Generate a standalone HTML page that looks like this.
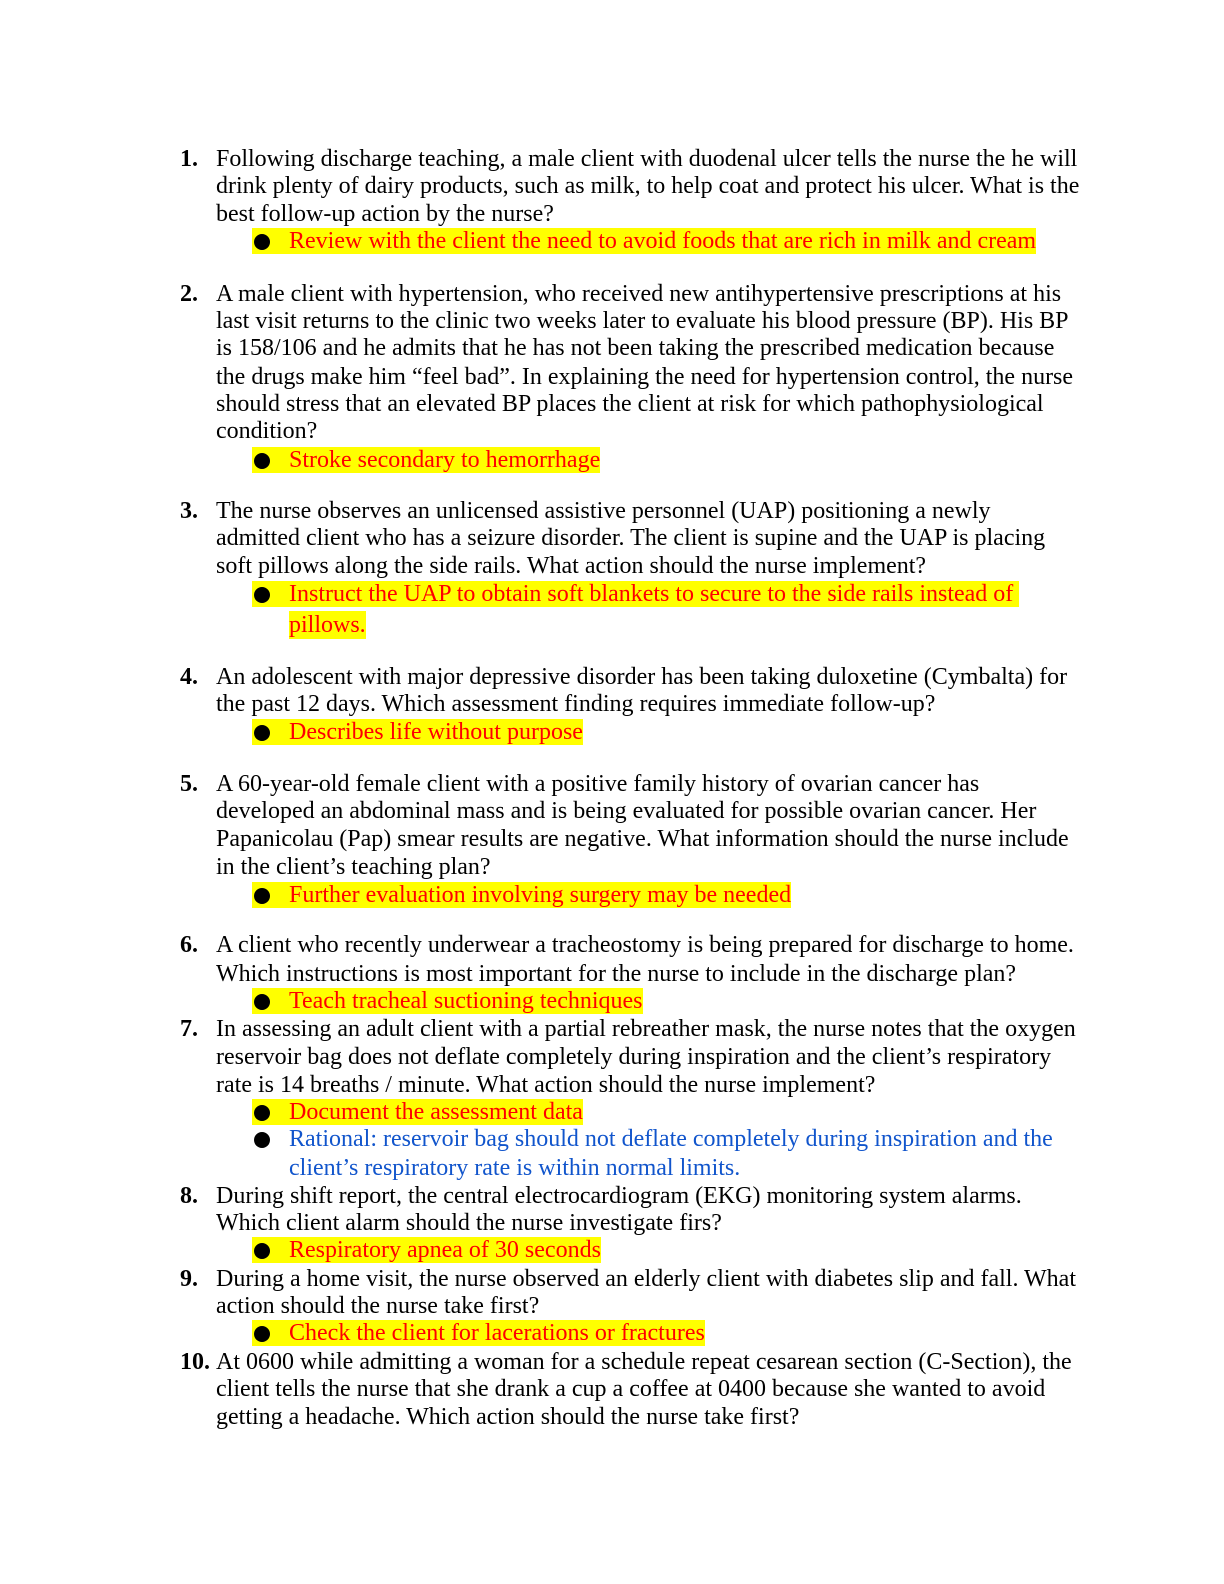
<!DOCTYPE html>
<html><head><meta charset="utf-8"><style>
body{margin:0;background:#fff;}
#p{position:relative;width:1224px;height:1584px;overflow:hidden;font-family:"Liberation Serif",serif;font-size:24px;color:#000;}
.l{position:absolute;left:216px;height:26px;line-height:26px;white-space:nowrap;}
.n{position:absolute;left:180px;height:26px;line-height:26px;font-weight:bold;}
.b{position:absolute;left:252px;height:26px;line-height:26px;padding-left:37px;white-space:nowrap;color:#f00;background:#ff0;}
.b.nb{background:none;color:#1155cc;}
.b:before{content:"";position:absolute;left:2px;top:6px;width:16px;height:16px;border-radius:50%;background:#000;}
.c{position:absolute;left:289px;height:26px;line-height:26px;white-space:nowrap;}
</style></head><body><div id="p">
<div class="n" style="top:146px">1.</div>
<div class="l" style="top:146px">Following discharge teaching, a male client with duodenal ulcer tells the nurse the he will</div>
<div class="l" style="top:173px">drink plenty of dairy products, such as milk, to help coat and protect his ulcer. What is the</div>
<div class="l" style="top:201px">best follow-up action by the nurse?</div>
<div class="b" style="top:228px">Review with the client the need to avoid foods that are rich in milk and cream</div>

<div class="n" style="top:281px">2.</div>
<div class="l" style="top:281px">A male client with hypertension, who received new antihypertensive prescriptions at his</div>
<div class="l" style="top:308px">last visit returns to the clinic two weeks later to evaluate his blood pressure (BP). His BP</div>
<div class="l" style="top:335px">is 158/106 and he admits that he has not been taking the prescribed medication because</div>
<div class="l" style="top:364px">the drugs make him “feel bad”. In explaining the need for hypertension control, the nurse</div>
<div class="l" style="top:391px">should stress that an elevated BP places the client at risk for which pathophysiological</div>
<div class="l" style="top:418px">condition?</div>
<div class="b" style="top:447px">Stroke secondary to hemorrhage</div>

<div class="n" style="top:498px">3.</div>
<div class="l" style="top:498px">The nurse observes an unlicensed assistive personnel (UAP) positioning a newly</div>
<div class="l" style="top:525px">admitted client who has a seizure disorder. The client is supine and the UAP is placing</div>
<div class="l" style="top:553px">soft pillows along the side rails. What action should the nurse implement?</div>
<div class="b" style="top:581px">Instruct the UAP to obtain soft blankets to secure to the side rails instead of&nbsp;</div>
<div class="c" style="top:611px;color:#f00;background:#ff0;height:28px;line-height:28px">pillows.</div>

<div class="n" style="top:664px">4.</div>
<div class="l" style="top:664px">An adolescent with major depressive disorder has been taking duloxetine (Cymbalta) for</div>
<div class="l" style="top:691px">the past 12 days. Which assessment finding requires immediate follow-up?</div>
<div class="b" style="top:719px">Describes life without purpose</div>

<div class="n" style="top:771px">5.</div>
<div class="l" style="top:771px">A 60-year-old female client with a positive family history of ovarian cancer has</div>
<div class="l" style="top:798px">developed an abdominal mass and is being evaluated for possible ovarian cancer. Her</div>
<div class="l" style="top:826px">Papanicolau (Pap) smear results are negative. What information should the nurse include</div>
<div class="l" style="top:854px">in the client’s teaching plan?</div>
<div class="b" style="top:882px">Further evaluation involving surgery may be needed</div>

<div class="n" style="top:932px">6.</div>
<div class="l" style="top:932px">A client who recently underwear a tracheostomy is being prepared for discharge to home.</div>
<div class="l" style="top:961px">Which instructions is most important for the nurse to include in the discharge plan?</div>
<div class="b" style="top:988px">Teach tracheal suctioning techniques</div>

<div class="n" style="top:1016px">7.</div>
<div class="l" style="top:1016px">In assessing an adult client with a partial rebreather mask, the nurse notes that the oxygen</div>
<div class="l" style="top:1044px">reservoir bag does not deflate completely during inspiration and the client’s respiratory</div>
<div class="l" style="top:1072px">rate is 14 breaths / minute. What action should the nurse implement?</div>
<div class="b" style="top:1099px">Document the assessment data</div>
<div class="b nb" style="top:1126px">Rational: reservoir bag should not deflate completely during inspiration and the</div>
<div class="c" style="top:1155px;color:#1155cc">client’s respiratory rate is within normal limits.</div>

<div class="n" style="top:1183px">8.</div>
<div class="l" style="top:1183px">During shift report, the central electrocardiogram (EKG) monitoring system alarms.</div>
<div class="l" style="top:1210px">Which client alarm should the nurse investigate firs?</div>
<div class="b" style="top:1237px">Respiratory apnea of 30 seconds</div>

<div class="n" style="top:1266px">9.</div>
<div class="l" style="top:1266px">During a home visit, the nurse observed an elderly client with diabetes slip and fall. What</div>
<div class="l" style="top:1293px">action should the nurse take first?</div>
<div class="b" style="top:1320px">Check the client for lacerations or fractures</div>

<div class="n" style="top:1349px">10.</div>
<div class="l" style="top:1349px">At 0600 while admitting a woman for a schedule repeat cesarean section (C-Section), the</div>
<div class="l" style="top:1376px">client tells the nurse that she drank a cup a coffee at 0400 because she wanted to avoid</div>
<div class="l" style="top:1404px">getting a headache. Which action should the nurse take first?</div>
</div></body></html>
